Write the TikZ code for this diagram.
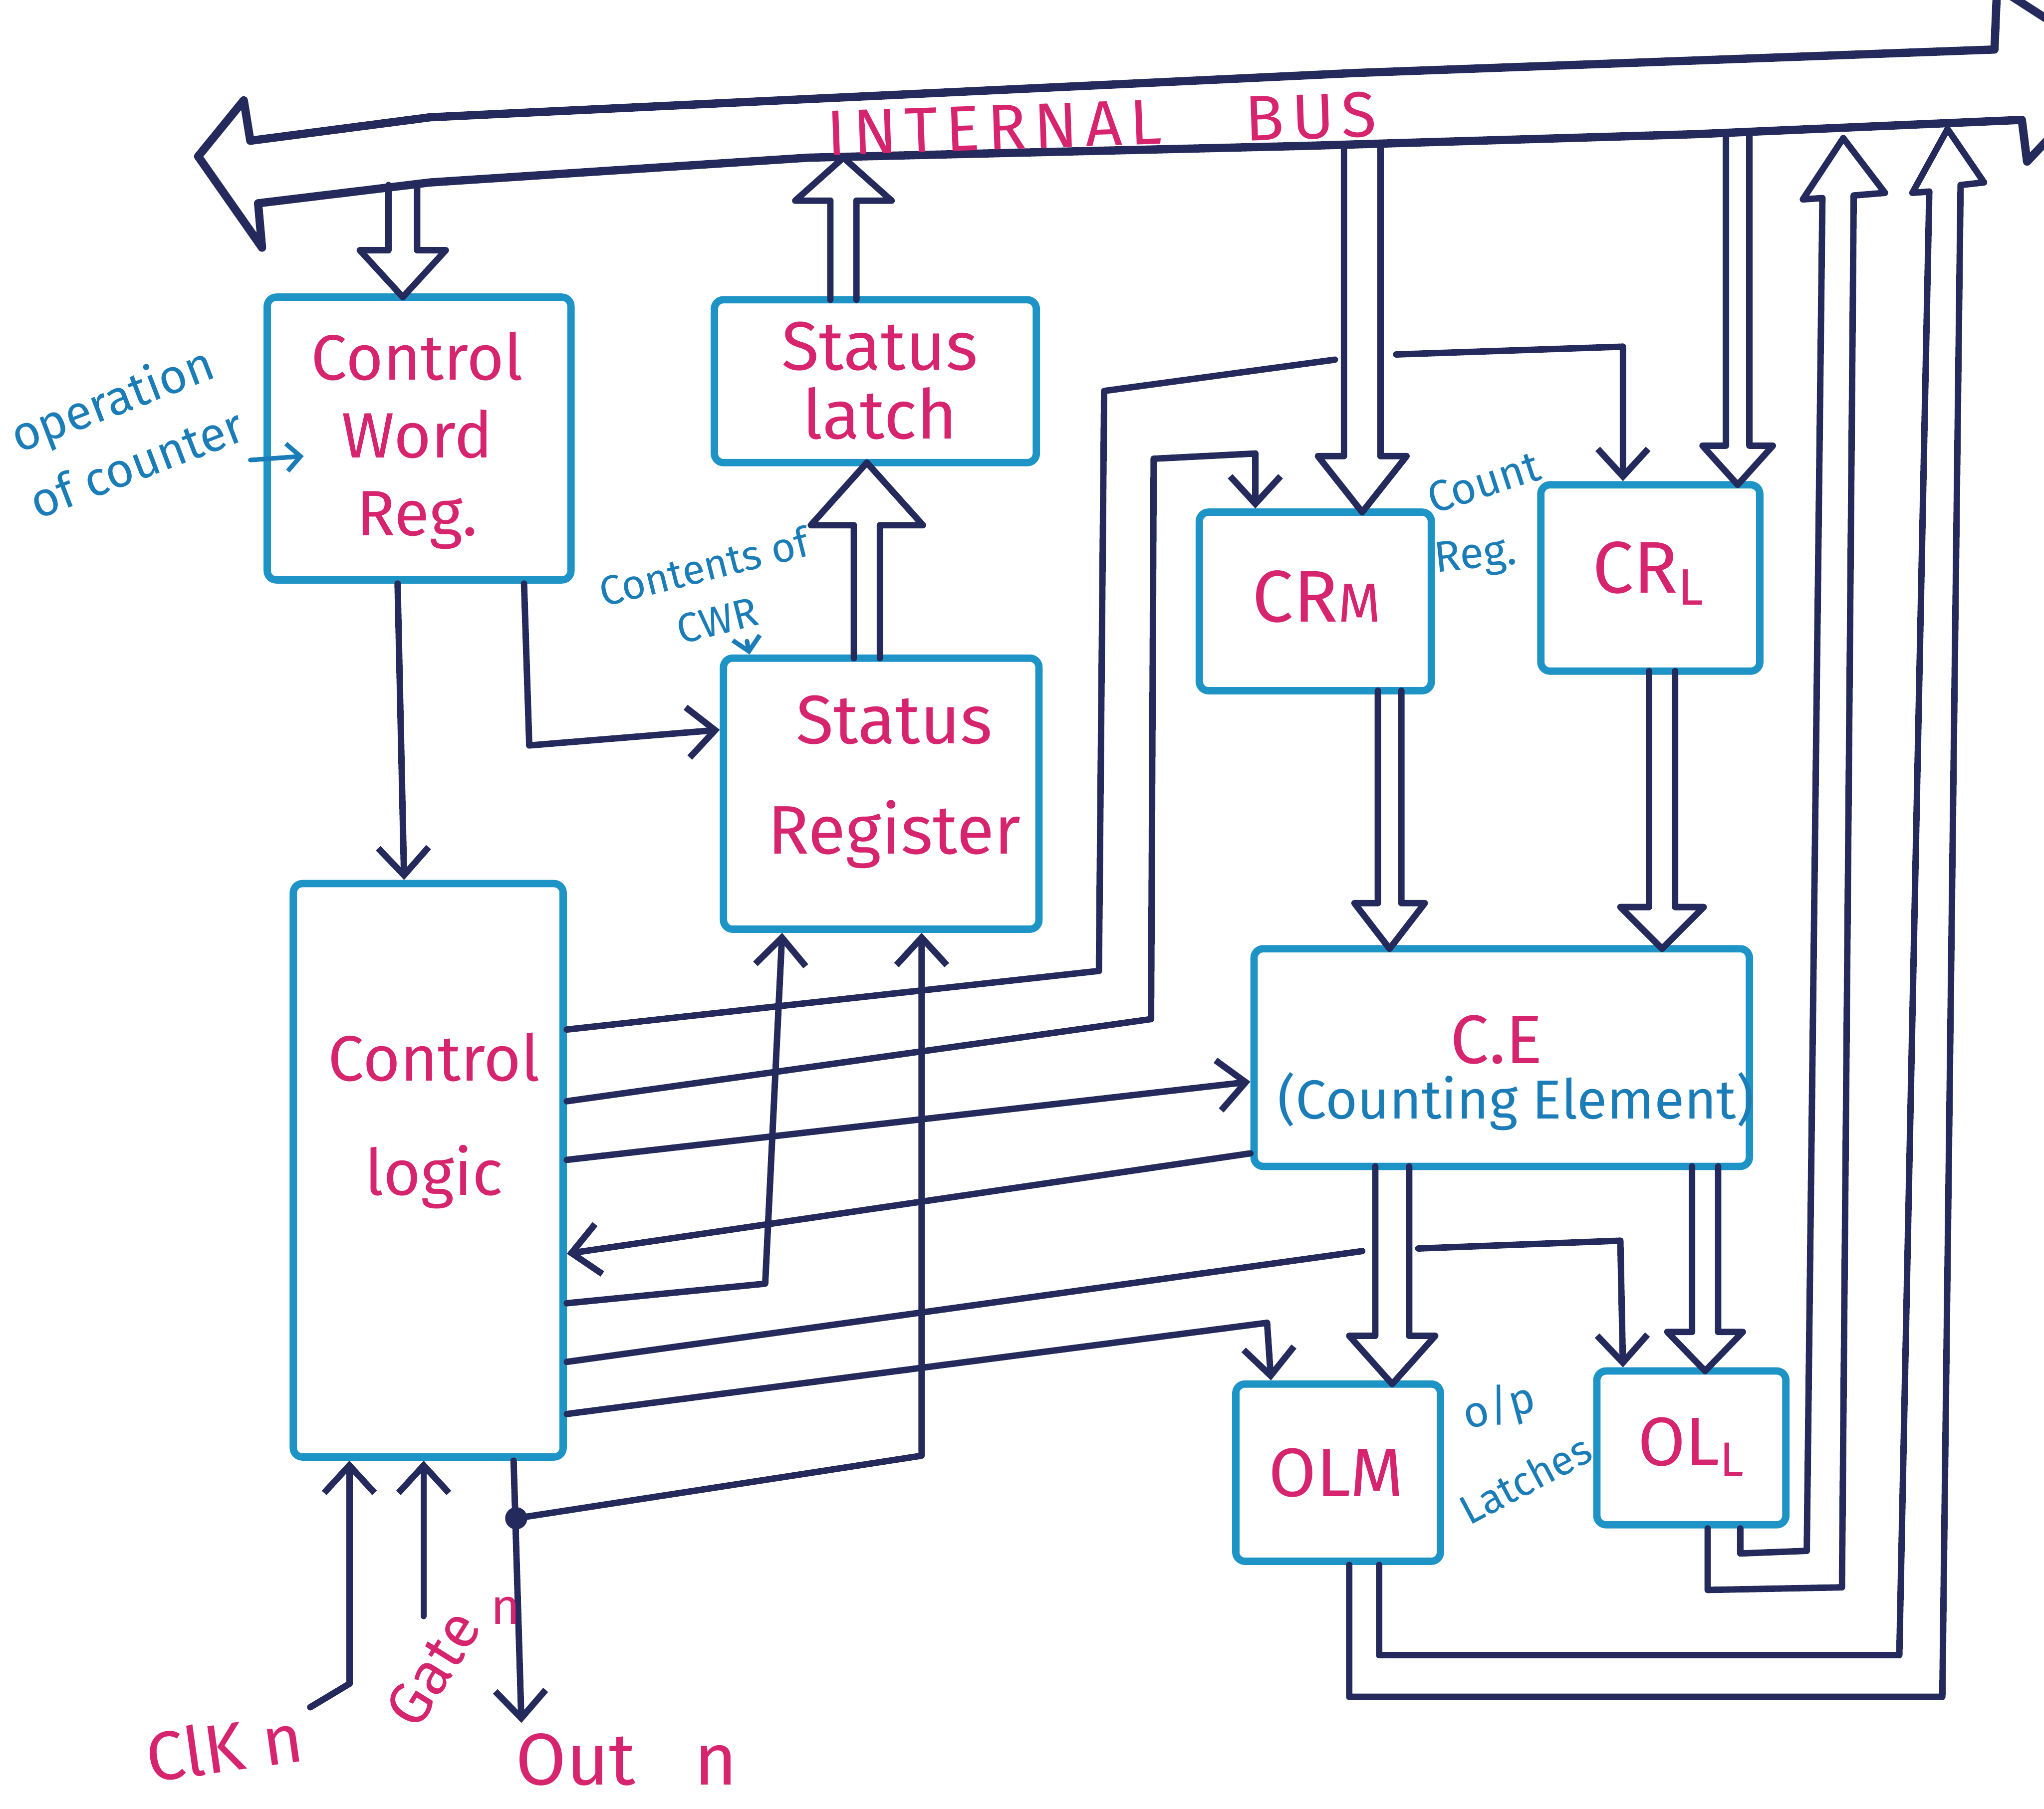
\documentclass[tikz,border=0pt]{standalone}
\usepackage{fontspec}
\setmainfont{Fira Sans}
\newfontfamily\busfont[LetterSpace=12]{Fira Sans}
\usetikzlibrary{arrows.meta,calc}

\definecolor{ink}{HTML}{252A5C}
\definecolor{boxline}{HTML}{1E93C6}
\definecolor{pinkink}{HTML}{D6246E}
\definecolor{noteink}{HTML}{1B7DB8}

\tikzset{
  box/.style={draw=boxline, line width=1.6pt, rounded corners=2pt, inner sep=0pt},
  boxtext/.style={text=pinkink, align=center, inner sep=0pt},
  wire/.style={draw=ink, line width=1.4pt, line join=round, line cap=round},
  sig/.style={wire, -{Straight Barb[length=6pt,width=11pt]}},
  fat/.style={draw=ink, line width=1.4pt, line join=round, line cap=round},
  busline/.style={draw=ink, line width=1.8pt, line join=round, line cap=round},
  note/.style={text=noteink, align=center, inner sep=0pt},
  notearrow/.style={draw=noteink, line width=1pt, line cap=round, -{Straight Barb[length=3pt,width=6pt]}},
  pinklabel/.style={text=pinkink, inner sep=0pt},
}

% hollow block arrows: x, start, tip, shaft half width, head half width, head length
\newcommand\fatdown[6]{%
  \draw[fat] ({#1-#4},#2) -- ({#1-#4},{#3-#6}) -- ({#1-#5},{#3-#6}) -- (#1,#3)
    -- ({#1+#5},{#3-#6}) -- ({#1+#4},{#3-#6}) -- ({#1+#4},#2);}
\newcommand\fatup[6]{%
  \draw[fat] ({#1-#4},#2) -- ({#1-#4},{#3+#6}) -- ({#1-#5},{#3+#6}) -- (#1,#3)
    -- ({#1+#5},{#3+#6}) -- ({#1+#4},{#3+#6}) -- ({#1+#4},#2);}

\begin{document}
\begin{tikzpicture}[x=0.1mm,y=-0.1mm]
\fill[white] (0,0) rectangle (1568,1388);
\useasboundingbox (0,0) rectangle (1568,1388);

% ---------- internal bus (double headed block arrow) ----------
\draw[busline] (192,108) -- (330,90) -- (620,76) -- (1040,56) -- (1530,38)
  -- (1532,-10) -- (1625,50) -- (1555,124) -- (1551,92) -- (1300,103)
  -- (1000,112) -- (620,121) -- (330,140) -- (198,156) -- (201,190)
  -- (152,120) -- (187,77) -- cycle;
\node[pinklabel, rotate=2, font=\busfont\fontsize{14pt}{16pt}\selectfont] (busname)
  at (845,95) {INTERNAL\hspace{1.3em}BUS};

% ---------- blocks ----------
\node[box, minimum width=23.3mm, minimum height=21.7mm] (cwr) at (321.5,336.5) {};
\node[boxtext, font=\fontsize{14pt}{17pt}\selectfont] (cwrtext) at (320,338) {Control\\Word\\Reg.};

\node[box, minimum width=24.7mm, minimum height=12.5mm] (sl) at (671.5,292.5) {};
\node[boxtext, font=\fontsize{15pt}{15pt}\selectfont] (sltext) at (675,292) {Status\\latch};

\node[box, minimum width=24.2mm, minimum height=20.8mm] (sr) at (676,609) {};
\node[boxtext, font=\fontsize{15pt}{24pt}\selectfont] (srtext) at (686,600) {Status\\Register};

\node[box, minimum width=20.7mm, minimum height=44mm] (cl) at (328.5,898) {};
\node[boxtext, font=\fontsize{14pt}{25pt}\selectfont] (cltext) at (333,860) {Control\\logic};

\node[box, minimum width=17.8mm, minimum height=13.7mm] (crm) at (1009,461.5) {};
\node[boxtext, font=\fontsize{16pt}{18pt}\selectfont] (crmtext) at (1010,458) {CR{\fontsize{12pt}{12pt}\selectfont M}};

\node[box, minimum width=16.8mm, minimum height=14.3mm] (crl) at (1266,443.5) {};
\node[boxtext, font=\fontsize{16pt}{18pt}\selectfont] (crltext) at (1265,440) {CR\textsubscript{L}};

\node[box, minimum width=38mm, minimum height=16.7mm] (ce) at (1152,811.5) {};
\node[boxtext, font=\fontsize{15pt}{15pt}\selectfont] (cetext) at (1148,798) {C.E};
\node[note, font=\fontsize{12pt}{12pt}\selectfont] (cesub) at (1163,845) {(Counting Element)};

\node[box, minimum width=15.7mm, minimum height=13.6mm] (olm) at (1026.5,1130) {};
\node[boxtext, font=\fontsize{15pt}{15pt}\selectfont] (olmtext) at (1025,1130) {OLM};

\node[box, minimum width=14.5mm, minimum height=11.8mm] (oll) at (1297.5,1111) {};
\node[boxtext, font=\fontsize{15pt}{15pt}\selectfont] (olltext) at (1298,1110) {OL\textsubscript{L}};

% ---------- side notes ----------
\node[note, rotate=21, font=\fontsize{10.5pt}{15pt}\selectfont] (opnote) at (95,330) {operation\\of counter};
\coordinate (opfrom) at (192,353);
\draw[notearrow] (opfrom) -- (233,350);

\node[note, rotate=14, font=\fontsize{9pt}{12pt}\selectfont] (cwrnote) at (545,455) {Contents of\\CWR};
\coordinate (cwrnotefoot) at (573,492);
\draw[notearrow] (cwrnotefoot) -- (575,0 |- sr.north);

\node[note, rotate=18, font=\fontsize{9.5pt}{11pt}\selectfont] (countnote) at (1138,370) {Count};
\node[note, rotate=6, font=\fontsize{9.5pt}{11pt}\selectfont] (regnote) at (1132,428) {Reg.};
\node[note, rotate=15, font=\fontsize{9.5pt}{11pt}\selectfont] (opnote2) at (1150,1080) {o/p};
\node[note, rotate=28, font=\fontsize{9pt}{11pt}\selectfont] (latchnote) at (1170,1135) {Latches};

% ---------- block arrows ----------
\fatdown{309}{142}{228}{11}{33}{36}      % bus -> control word register
\fatup{647}{230}{121}{10}{37}{33}        % status latch -> bus
\fatup{665}{505}{355}{10}{43}{48}        % status register -> status latch
\fatdown{1045}{111}{393}{14}{34}{43}     % bus -> CRM
\fatdown{1333}{102}{372}{9}{27}{30}      % bus -> CRL
\fatdown{1066}{530}{728}{9}{27}{35}      % CRM -> CE
\fatdown{1275}{515}{728}{10}{32}{32}     % CRL -> CE
\fatdown{1068}{895}{1062}{13}{33}{37}    % CE -> OLM
\fatdown{1308}{895}{1052}{10}{29}{30}    % CE -> OLL

% output latches back to the bus
\draw[fat] (1335,0 |- oll.south) -- (1335,1192) -- (1386,1190) -- (1398,152)
  -- (1383,153) -- (1414,106) -- (1446,148) -- (1422,150) -- (1413,1218)
  -- (1310,1220) -- (1310,0 |- oll.south);
\draw[fat] (1058,0 |- olm.south) -- (1058,1270) -- (1457,1270) -- (1480,147)
  -- (1467,148) -- (1494,99) -- (1522,140) -- (1504,142) -- (1490,1302)
  -- (1035,1302) -- (1035,0 |- olm.south);

% ---------- control signals ----------
\draw[sig] (305,0 |- cwr.south) -- (310,0 |- cl.north);
\draw[sig] (402,0 |- cwr.south) -- (406,572) -- (sr.west |- 0,560);

\draw[wire] (cl.east |- 0,790) -- (843,745) -- (847,300) -- (1024,276);
\draw[sig] (1071,272) -- (1245,266) -- (1245,0 |- crl.north);
\draw[sig] (cl.east |- 0,845) -- (883,782) -- (885,352) -- (963,348) -- (963,0 |- crm.north);
\draw[sig] (cl.east |- 0,890) -- (ce.west |- 0,830);
\draw[sig] (ce.west |- 0,885) -- (cl.east |- 0,962);
\draw[sig] (cl.east |- 0,1000) -- (587,985) -- (600,0 |- sr.south);
\draw[wire] (cl.east |- 0,1045) -- (1045,960);
\draw[sig] (1088,958) -- (1243,952) -- (1245,0 |- oll.north);
\draw[sig] (cl.east |- 0,1085) -- (972,1015) -- (975,0 |- olm.north);

% ---------- external pins ----------
\coordinate (junction) at (396,1165);
\draw[sig] (394,0 |- cl.south) -- (400,1322);
\fill[ink] (junction) circle[radius=0.85mm];
\draw[sig] (junction) -- (707,1117) -- (707,0 |- sr.south);

\coordinate (clkfoot) at (268,1292);
\coordinate (gatefoot) at (325,1240);
\draw[sig] (clkfoot) -- (268,0 |- cl.south);
\draw[sig] (gatefoot) -- (325,0 |- cl.south);
\draw[wire] (238,1310) -- (clkfoot);

\node[pinklabel, rotate=8, font=\fontsize{15pt}{15pt}\selectfont] (clk) at (172,1340) {ClK n};
\node[pinklabel, rotate=58, font=\fontsize{13pt}{13pt}\selectfont] (gate) at (332,1280) {Gate};
\node[pinklabel, font=\fontsize{11pt}{11pt}\selectfont] (gaten) at (388,1236) {n};
\node[pinklabel, anchor=west, font=\fontsize{16pt}{16pt}\selectfont] (out) at (395,1350) {Out\hspace{0.8em}n};

\end{tikzpicture}
\end{document}
